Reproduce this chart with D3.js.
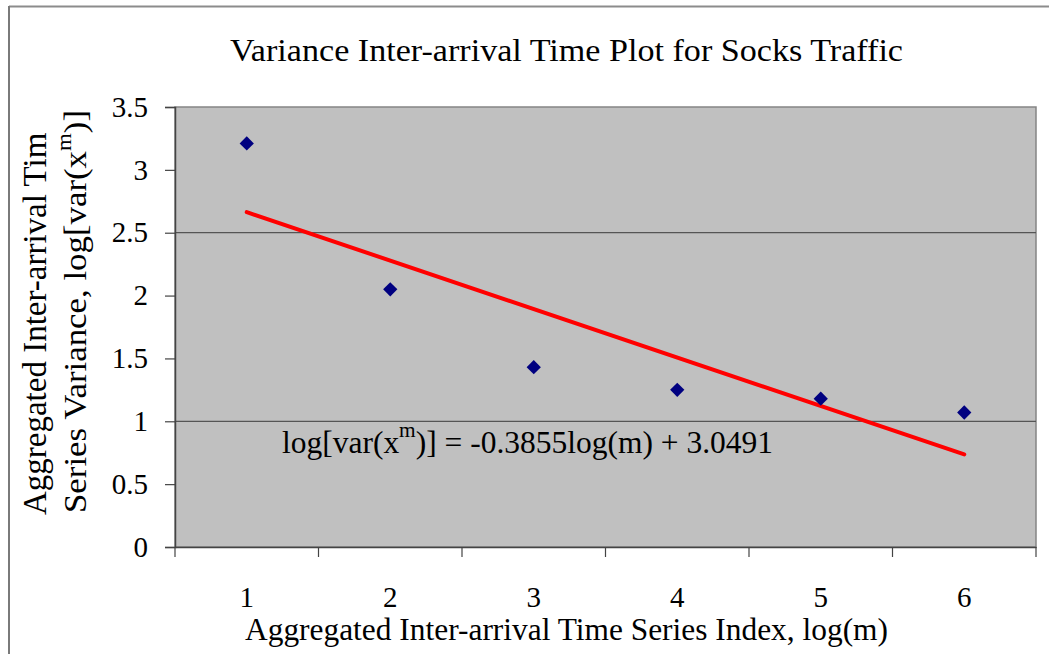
<!DOCTYPE html>
<html>
<head>
<meta charset="utf-8">
<script src="https://cdn.jsdelivr.net/npm/d3@7"></script>
<style>
  body { margin: 0; background: #ffffff; }
  svg text { font-family: "Liberation Serif", "Times New Roman", serif; fill: #000; }
</style>
</head>
<body>
<div id="chart"></div>
<script>

// chart data
const categories = [1, 2, 3, 4, 5, 6];
const varianceValues = [3.21, 2.05, 1.43, 1.25, 1.18, 1.07];
const yTicks = [0, 0.5, 1, 1.5, 2, 2.5, 3, 3.5];
const gridValues = [1, 2.5];
const trendSlope = -0.3855;
const trendIntercept = 3.0491;

const chartTitle = 'Variance Inter-arrival Time Plot for Socks Traffic';
const xTitle = 'Aggregated Inter-arrival Time Series Index, log(m)';
const yTitleLine1 = 'Aggregated Inter-arrival Time';

function createSVGViewbox(containerId, width, height) {

    try {

        let svg = d3.select(containerId)
            .append('svg')
            .attr('width', width)
            .attr('height', height)
            .attr('viewBox', '0 0 ' + width + ' ' + height);
        return svg;

    } catch (error) {

        console.log('createSVGViewbox. Error: ' + error);
        return null;
    }
}

function drawChart() {

    const W = 1049, H = 654;
    const plot = { left: 175, right: 1036, top: 107, bottom: 547 };

    let svg = createSVGViewbox('#chart', W, H);

    // outer frame (only top and left edges visible)
    svg.append('line').attr('x1', 9).attr('x2', W).attr('y1', 6.5).attr('y2', 6.5)
        .attr('stroke', '#8c8c8c').attr('stroke-width', 2);
    svg.append('line').attr('x1', 9).attr('x2', 9).attr('y1', 6).attr('y2', H)
        .attr('stroke', '#7a7a7a').attr('stroke-width', 2);

    let x = d3.scaleBand().domain(categories).range([plot.left, plot.right]).padding(0);
    let y = d3.scaleLinear().domain([0, 3.5]).range([plot.bottom, plot.top]);
    let xc = d => x(d) + x.bandwidth() / 2;

    // plot area
    svg.append('rect')
        .attr('x', plot.left).attr('y', plot.top)
        .attr('width', plot.right - plot.left).attr('height', plot.bottom - plot.top)
        .attr('fill', '#c0c0c0')
        .attr('stroke', '#858585').attr('stroke-width', 1.5);

    // gridlines
    svg.selectAll('.grid')
        .data(gridValues).enter()
        .append('line')
        .attr('x1', plot.left).attr('x2', plot.right)
        .attr('y1', d => y(d)).attr('y2', d => y(d))
        .attr('stroke', '#555').attr('stroke-width', 1.2);

    // y axis
    let yAxis = svg.append('g')
        .attr('transform', 'translate(' + plot.left + ',0)')
        .call(d3.axisLeft(y).tickValues(yTicks).tickFormat(d3.format('~g'))
            .tickSize(10).tickPadding(17));
    yAxis.select('.domain').attr('stroke', '#444').attr('stroke-width', 1.5);
    yAxis.selectAll('.tick line').attr('stroke', '#444').attr('stroke-width', 1.2);
    yAxis.selectAll('.tick text')
        .style('font-family', '"Liberation Serif", serif')
        .style('font-size', '29px').attr('fill', '#000');

    // x axis (labels centred on categories, ticks between categories)
    let xAxis = svg.append('g')
        .attr('transform', 'translate(0,' + plot.bottom + ')')
        .call(d3.axisBottom(x).tickSize(0).tickPadding(39));
    xAxis.select('.domain').attr('stroke', '#444').attr('stroke-width', 1.5);
    xAxis.selectAll('.tick text')
        .style('font-family', '"Liberation Serif", serif')
        .style('font-size', '29px').attr('fill', '#000');

    let edges = categories.map(d => x(d)).concat([plot.right]);
    svg.selectAll('.xtick')
        .data(edges).enter()
        .append('line')
        .attr('x1', d => d).attr('x2', d => d)
        .attr('y1', plot.bottom).attr('y2', plot.bottom + 10)
        .attr('stroke', '#444').attr('stroke-width', 1.2);

    // trend line from the fitted equation
    let trendEnds = [categories[0], categories[categories.length - 1]];
    svg.append('line')
        .attr('x1', xc(trendEnds[0])).attr('y1', y(trendSlope * trendEnds[0] + trendIntercept))
        .attr('x2', xc(trendEnds[1])).attr('y2', y(trendSlope * trendEnds[1] + trendIntercept))
        .attr('stroke', '#ff0000').attr('stroke-width', 4).attr('stroke-linecap', 'round');

    // data markers
    svg.selectAll('.pt')
        .data(categories).enter()
        .append('path')
        .attr('d', d3.symbol().type(d3.symbolDiamond2).size(130))
        .attr('transform', (d, i) => 'translate(' + xc(d) + ',' + y(varianceValues[i]) + ')')
        .attr('fill', '#000080');

    // trend equation
    let eq = svg.append('text')
        .attr('x', 282).attr('y', 453)
        .attr('textLength', 491).attr('lengthAdjust', 'spacingAndGlyphs')
        .style('font-size', '31px');
    eq.append('tspan').text('log[var(x');
    eq.append('tspan').attr('dy', -16).style('font-size', '21px').text('m');
    eq.append('tspan').attr('dy', 16).text(')] = ' + trendSlope.toFixed(4) + 'log(m) + ' + trendIntercept.toFixed(4));

    // title
    svg.append('text')
        .attr('x', 230).attr('y', 61)
        .attr('textLength', 673).attr('lengthAdjust', 'spacingAndGlyphs')
        .style('font-size', '32px')
        .text(chartTitle);

    // x title
    svg.append('text')
        .attr('x', 245).attr('y', 640)
        .attr('textLength', 643).attr('lengthAdjust', 'spacingAndGlyphs')
        .style('font-size', '31px')
        .text(xTitle);

    // y title, two lines, first one clipped like the original
    svg.append('clipPath').attr('id', 'yclip')
        .append('rect').attr('x', 0).attr('y', 133).attr('width', 70).attr('height', 420);

    svg.append('g')
        .attr('clip-path', 'url(#yclip)')
        .append('text')
        .attr('transform', 'translate(46,515) rotate(-90)')
        .style('font-size', '33px')
        .text(yTitleLine1);

    let y2 = svg.append('text')
        .attr('transform', 'translate(86,513) rotate(-90)')
        .attr('textLength', 403).attr('lengthAdjust', 'spacingAndGlyphs')
        .style('font-size', '32px');
    y2.append('tspan').text('Series Variance, log[var(x');
    y2.append('tspan').attr('dy', -15).style('font-size', '21px').text('m');
    y2.append('tspan').attr('dy', 15).text(')]');
}

drawChart();
</script>
</body>
</html>
